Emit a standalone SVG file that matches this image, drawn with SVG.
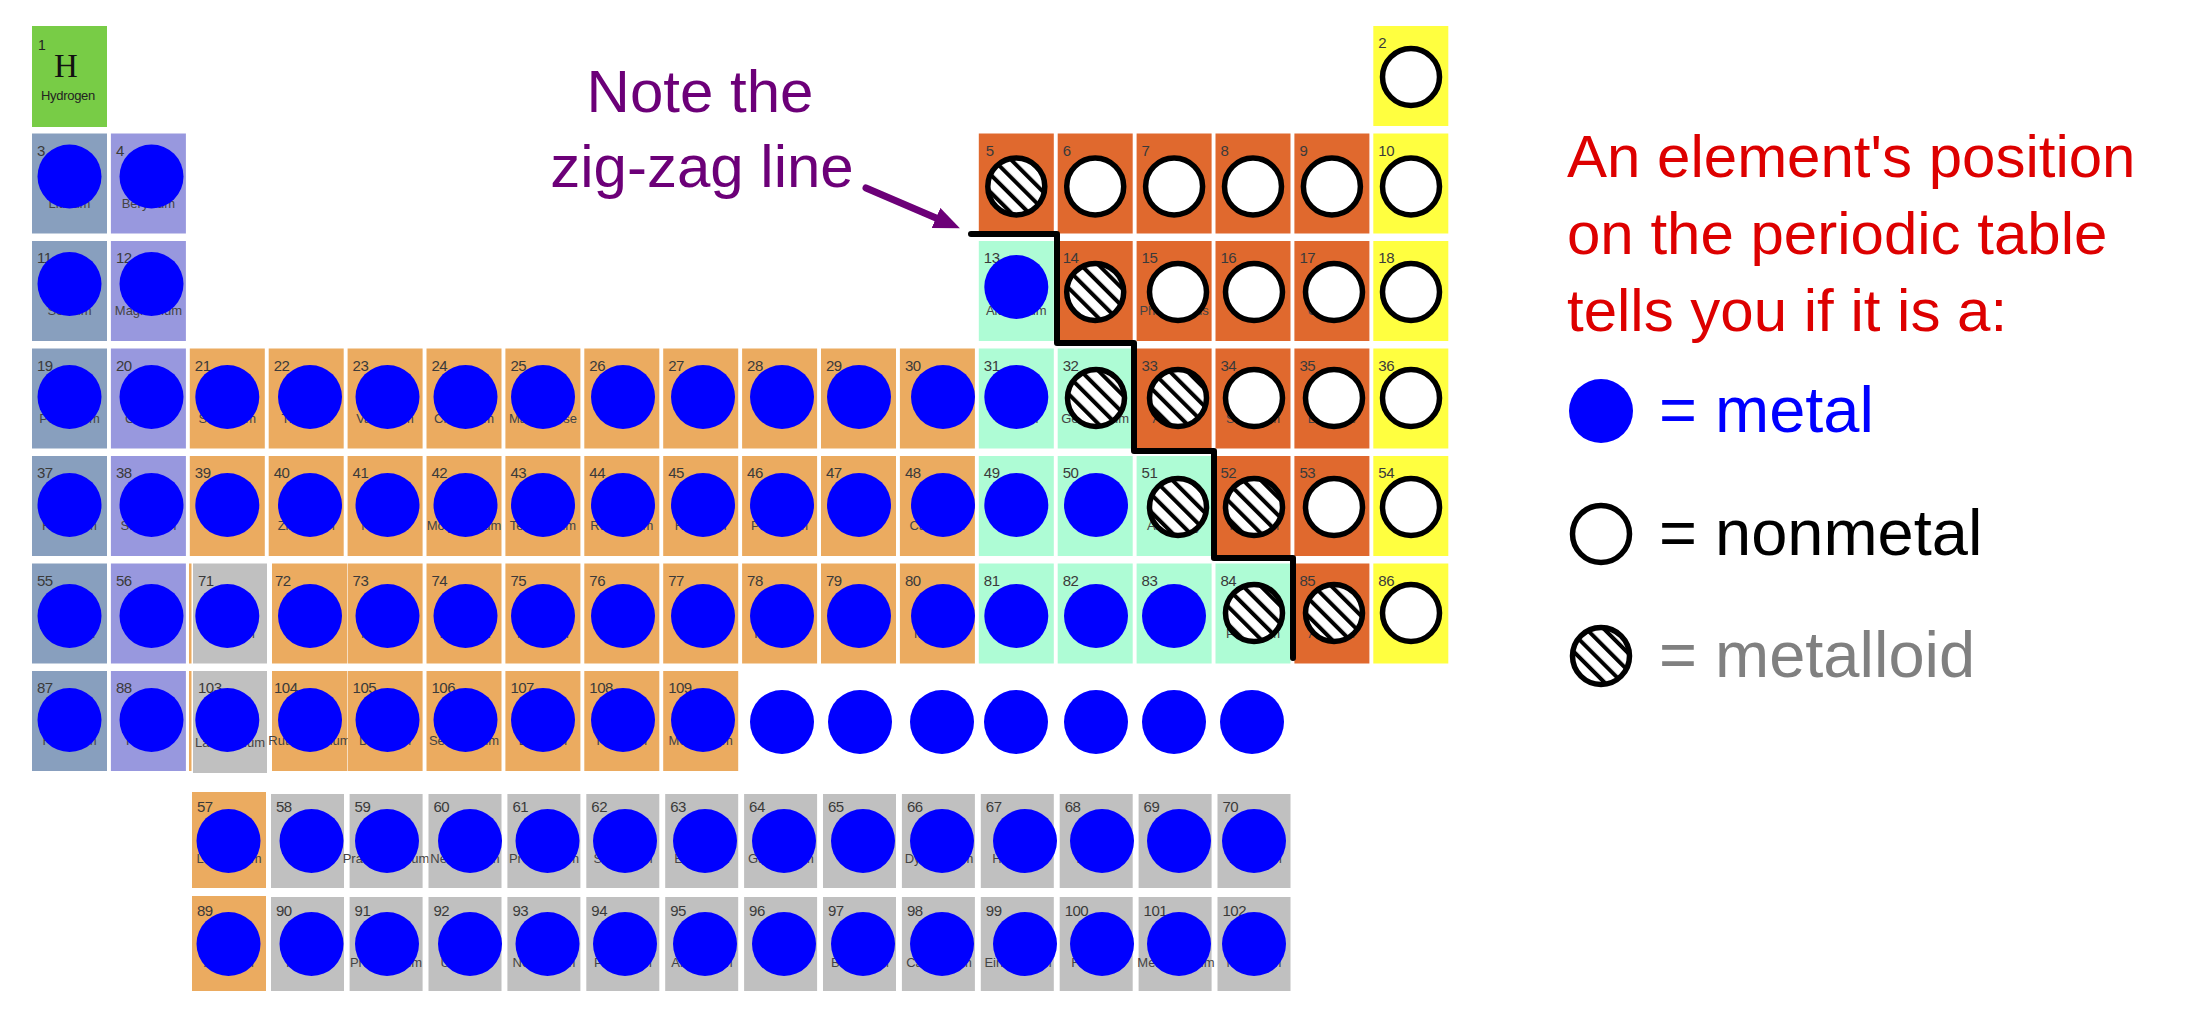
<svg xmlns="http://www.w3.org/2000/svg" width="2211" height="1030" viewBox="0 0 2211 1030">
<defs>
<style>
.cH{fill:#78cc46}.cA{fill:#889fbe}.cB{fill:#9898de}.cT{fill:#ebab60}.cP{fill:#aefcd5}.cN{fill:#e0692e}.cG{fill:#ffff40}.cL{fill:#c0c0c0}
.num{font-family:"Liberation Sans",Arial,sans-serif;font-size:15px;fill:#3a3a3a;letter-spacing:-0.5px}
.lbl{font-family:"Liberation Sans",Arial,sans-serif;font-size:13px;fill:#444;text-anchor:middle}
.m{fill:#0000ff}
.n{fill:#fff;stroke:#000;stroke-width:5.5}
.d{fill:url(#hatch);stroke:#000;stroke-width:5.5}
.note{font-family:"Liberation Sans",Arial,sans-serif;font-size:60px;fill:#6c0078;text-anchor:middle}
.head{font-family:"Liberation Sans",Arial,sans-serif;font-size:60px;fill:#dd0000}
.leg{font-family:"Liberation Sans",Arial,sans-serif;font-size:65px}
</style>
<pattern id="hatch" width="12.5" height="12.5" patternUnits="userSpaceOnUse" patternTransform="rotate(-45)">
<rect width="12.5" height="12.5" fill="#fff"/><rect width="4" height="12.5" fill="#000"/>
</pattern>
<marker id="ah" markerUnits="userSpaceOnUse" markerWidth="26" markerHeight="22" viewBox="0 0 26 22" refX="0" refY="11" orient="auto">
<path d="M0,0 L26,11 L0,22 Z" fill="#6c0078"/>
</marker>
</defs>
<rect width="2211" height="1030" fill="#fff"/>

<!-- period 1 -->
<g id="e1"><rect class="cH" x="32" y="26" width="75" height="101"/><text x="38" y="50" style="font-family:'Liberation Sans',Arial,sans-serif;font-size:14px;fill:#222">1</text><text x="66" y="77" style="font-family:'Liberation Serif','Times New Roman',serif;font-size:33px;fill:#111;text-anchor:middle">H</text><text x="68" y="100" style="font-family:'Liberation Sans',Arial,sans-serif;font-size:13px;fill:#222;text-anchor:middle;letter-spacing:-0.3px">Hydrogen</text></g>
<g id="e2"><rect class="cG" x="1373.3" y="26" width="75" height="100"/><text class="num" x="1378.3" y="48">2</text><circle class="n" cx="1411" cy="77" r="28.5"/></g>

<!-- period 2 -->
<g id="e3"><rect class="cA" x="32" y="133.5" width="75" height="100"/><text class="num" x="37" y="155.5">3</text><text class="lbl" x="69.5" y="207.5">Lithium</text><circle class="m" cx="69.5" cy="176.5" r="32"/></g>
<g id="e4"><rect class="cB" x="110.9" y="133.5" width="75" height="100"/><text class="num" x="115.9" y="155.5">4</text><text class="lbl" x="148.4" y="207.5">Beryllium</text><circle class="m" cx="151.5" cy="176.5" r="32"/></g>
<g id="e5"><rect class="cN" x="978.8" y="133.5" width="75" height="100"/><text class="num" x="985.8" y="155.5">5</text><circle class="d" cx="1016.3" cy="186.5" r="28.5"/></g>
<g id="e6"><rect class="cN" x="1057.7" y="133.5" width="75" height="100"/><text class="num" x="1062.7" y="155.5">6</text><circle class="n" cx="1095.2" cy="186.5" r="28.5"/></g>
<g id="e7"><rect class="cN" x="1136.6" y="133.5" width="75" height="100"/><text class="num" x="1141.6" y="155.5">7</text><circle class="n" cx="1174.1" cy="186.5" r="28.5"/></g>
<g id="e8"><rect class="cN" x="1215.5" y="133.5" width="75" height="100"/><text class="num" x="1220.5" y="155.5">8</text><circle class="n" cx="1253" cy="186.5" r="28.5"/></g>
<g id="e9"><rect class="cN" x="1294.4" y="133.5" width="75" height="100"/><text class="num" x="1299.4" y="155.5">9</text><circle class="n" cx="1331.9" cy="186.5" r="28.5"/></g>
<g id="e10"><rect class="cG" x="1373.3" y="133.5" width="75" height="100"/><text class="num" x="1378.3" y="155.5">10</text><circle class="n" cx="1411" cy="186.5" r="28.5"/></g>

<!-- period 3 -->
<g id="e11"><rect class="cA" x="32" y="241" width="75" height="100"/><text class="num" x="37" y="263">11</text><text class="lbl" x="69.5" y="315">Sodium</text><circle class="m" cx="69.5" cy="284" r="32"/></g>
<g id="e12"><rect class="cB" x="110.9" y="241" width="75" height="100"/><text class="num" x="115.9" y="263">12</text><text class="lbl" x="148.4" y="315">Magnesium</text><circle class="m" cx="151.5" cy="284" r="32"/></g>
<g id="e13"><rect class="cP" x="978.8" y="241" width="75" height="100"/><text class="num" x="983.8" y="263">13</text><text class="lbl" x="1016.3" y="315">Aluminium</text><circle class="m" cx="1016.3" cy="287" r="32"/></g>
<g id="e14"><rect class="cN" x="1057.7" y="241" width="75" height="100"/><text class="num" x="1062.7" y="263">14</text><text class="lbl" x="1095.2" y="315">Silicon</text><circle class="d" cx="1095.2" cy="292" r="28.5"/></g>
<g id="e15"><rect class="cN" x="1136.6" y="241" width="75" height="100"/><text class="num" x="1141.6" y="263">15</text><text class="lbl" x="1174.1" y="315">Phosphorus</text><circle class="n" cx="1178" cy="292" r="28.5"/></g>
<g id="e16"><rect class="cN" x="1215.5" y="241" width="75" height="100"/><text class="num" x="1220.5" y="263">16</text><text class="lbl" x="1253" y="315">Sulfur</text><circle class="n" cx="1254" cy="292" r="28.5"/></g>
<g id="e17"><rect class="cN" x="1294.4" y="241" width="75" height="100"/><text class="num" x="1299.4" y="263">17</text><text class="lbl" x="1331.9" y="315">Chlorine</text><circle class="n" cx="1334" cy="292" r="28.5"/></g>
<g id="e18"><rect class="cG" x="1373.3" y="241" width="75" height="100"/><text class="num" x="1378.3" y="263">18</text><circle class="n" cx="1411" cy="292" r="28.5"/></g>

<!-- period 4 -->
<g id="e19"><rect class="cA" x="32" y="348.5" width="75" height="100"/><text class="num" x="37" y="370.5">19</text><text class="lbl" x="69.5" y="422.5">Potassium</text><circle class="m" cx="69.5" cy="397" r="32"/></g>
<g id="e20"><rect class="cB" x="110.9" y="348.5" width="75" height="100"/><text class="num" x="115.9" y="370.5">20</text><text class="lbl" x="148.4" y="422.5">Calcium</text><circle class="m" cx="151.5" cy="397" r="32"/></g>
<g id="e21"><rect class="cT" x="189.8" y="348.5" width="75" height="100"/><text class="num" x="194.8" y="370.5">21</text><text class="lbl" x="227.3" y="422.5">Scandium</text><circle class="m" cx="227.3" cy="397" r="32"/></g>
<g id="e22"><rect class="cT" x="268.7" y="348.5" width="75" height="100"/><text class="num" x="273.7" y="370.5">22</text><text class="lbl" x="306.2" y="422.5">Titanium</text><circle class="m" cx="310" cy="397" r="32"/></g>
<g id="e23"><rect class="cT" x="347.6" y="348.5" width="75" height="100"/><text class="num" x="352.6" y="370.5">23</text><text class="lbl" x="385.1" y="422.5">Vanadium</text><circle class="m" cx="387.5" cy="397" r="32"/></g>
<g id="e24"><rect class="cT" x="426.5" y="348.5" width="75" height="100"/><text class="num" x="431.5" y="370.5">24</text><text class="lbl" x="464" y="422.5">Chromium</text><circle class="m" cx="465.5" cy="397" r="32"/></g>
<g id="e25"><rect class="cT" x="505.4" y="348.5" width="75" height="100"/><text class="num" x="510.4" y="370.5">25</text><text class="lbl" x="542.9" y="422.5">Manganese</text><circle class="m" cx="543" cy="397" r="32"/></g>
<g id="e26"><rect class="cT" x="584.3" y="348.5" width="75" height="100"/><text class="num" x="589.3" y="370.5">26</text><text class="lbl" x="621.8" y="422.5">Iron</text><circle class="m" cx="623" cy="397" r="32"/></g>
<g id="e27"><rect class="cT" x="663.2" y="348.5" width="75" height="100"/><text class="num" x="668.2" y="370.5">27</text><text class="lbl" x="700.7" y="422.5">Cobalt</text><circle class="m" cx="703" cy="397" r="32"/></g>
<g id="e28"><rect class="cT" x="742.1" y="348.5" width="75" height="100"/><text class="num" x="747.1" y="370.5">28</text><text class="lbl" x="779.6" y="422.5">Nickel</text><circle class="m" cx="782" cy="397" r="32"/></g>
<g id="e29"><rect class="cT" x="821" y="348.5" width="75" height="100"/><text class="num" x="826" y="370.5">29</text><text class="lbl" x="858.5" y="422.5">Copper</text><circle class="m" cx="859" cy="397" r="32"/></g>
<g id="e30"><rect class="cT" x="899.9" y="348.5" width="75" height="100"/><text class="num" x="904.9" y="370.5">30</text><text class="lbl" x="937.4" y="422.5">Zinc</text><circle class="m" cx="943" cy="397" r="32"/></g>
<g id="e31"><rect class="cP" x="978.8" y="348.5" width="75" height="100"/><text class="num" x="983.8" y="370.5">31</text><text class="lbl" x="1016.3" y="422.5">Gallium</text><circle class="m" cx="1016.3" cy="397" r="32"/></g>
<g id="e32"><rect class="cP" x="1057.7" y="348.5" width="75" height="100"/><text class="num" x="1062.7" y="370.5">32</text><text class="lbl" x="1095.2" y="422.5">Germanium</text><circle class="d" cx="1096" cy="398" r="28.5"/></g>
<g id="e33"><rect class="cN" x="1136.6" y="348.5" width="75" height="100"/><text class="num" x="1141.6" y="370.5">33</text><text class="lbl" x="1174.1" y="422.5">Arsenic</text><circle class="d" cx="1178" cy="398" r="28.5"/></g>
<g id="e34"><rect class="cN" x="1215.5" y="348.5" width="75" height="100"/><text class="num" x="1220.5" y="370.5">34</text><text class="lbl" x="1253" y="422.5">Selenium</text><circle class="n" cx="1254" cy="398" r="28.5"/></g>
<g id="e35"><rect class="cN" x="1294.4" y="348.5" width="75" height="100"/><text class="num" x="1299.4" y="370.5">35</text><text class="lbl" x="1331.9" y="422.5">Bromine</text><circle class="n" cx="1334" cy="398" r="28.5"/></g>
<g id="e36"><rect class="cG" x="1373.3" y="348.5" width="75" height="100"/><text class="num" x="1378.3" y="370.5">36</text><circle class="n" cx="1411" cy="398" r="28.5"/></g>

<!-- period 5 -->
<g id="e37"><rect class="cA" x="32" y="456" width="75" height="100"/><text class="num" x="37" y="478">37</text><text class="lbl" x="69.5" y="530">Rubidium</text><circle class="m" cx="69.5" cy="505" r="32"/></g>
<g id="e38"><rect class="cB" x="110.9" y="456" width="75" height="100"/><text class="num" x="115.9" y="478">38</text><text class="lbl" x="148.4" y="530">Strontium</text><circle class="m" cx="151.5" cy="505" r="32"/></g>
<g id="e39"><rect class="cT" x="189.8" y="456" width="75" height="100"/><text class="num" x="194.8" y="478">39</text><text class="lbl" x="227.3" y="530">Yttrium</text><circle class="m" cx="227.3" cy="505" r="32"/></g>
<g id="e40"><rect class="cT" x="268.7" y="456" width="75" height="100"/><text class="num" x="273.7" y="478">40</text><text class="lbl" x="306.2" y="530">Zirconium</text><circle class="m" cx="310" cy="505" r="32"/></g>
<g id="e41"><rect class="cT" x="347.6" y="456" width="75" height="100"/><text class="num" x="352.6" y="478">41</text><text class="lbl" x="385.1" y="530">Niobium</text><circle class="m" cx="387.5" cy="505" r="32"/></g>
<g id="e42"><rect class="cT" x="426.5" y="456" width="75" height="100"/><text class="num" x="431.5" y="478">42</text><text class="lbl" x="464" y="530">Molybdenum</text><circle class="m" cx="465.5" cy="505" r="32"/></g>
<g id="e43"><rect class="cT" x="505.4" y="456" width="75" height="100"/><text class="num" x="510.4" y="478">43</text><text class="lbl" x="542.9" y="530">Technetium</text><circle class="m" cx="543" cy="505" r="32"/></g>
<g id="e44"><rect class="cT" x="584.3" y="456" width="75" height="100"/><text class="num" x="589.3" y="478">44</text><text class="lbl" x="621.8" y="530">Ruthenium</text><circle class="m" cx="623" cy="505" r="32"/></g>
<g id="e45"><rect class="cT" x="663.2" y="456" width="75" height="100"/><text class="num" x="668.2" y="478">45</text><text class="lbl" x="700.7" y="530">Rhodium</text><circle class="m" cx="703" cy="505" r="32"/></g>
<g id="e46"><rect class="cT" x="742.1" y="456" width="75" height="100"/><text class="num" x="747.1" y="478">46</text><text class="lbl" x="779.6" y="530">Palladium</text><circle class="m" cx="782" cy="505" r="32"/></g>
<g id="e47"><rect class="cT" x="821" y="456" width="75" height="100"/><text class="num" x="826" y="478">47</text><text class="lbl" x="858.5" y="530">Silver</text><circle class="m" cx="859" cy="505" r="32"/></g>
<g id="e48"><rect class="cT" x="899.9" y="456" width="75" height="100"/><text class="num" x="904.9" y="478">48</text><text class="lbl" x="937.4" y="530">Cadmium</text><circle class="m" cx="943" cy="505" r="32"/></g>
<g id="e49"><rect class="cP" x="978.8" y="456" width="75" height="100"/><text class="num" x="983.8" y="478">49</text><text class="lbl" x="1016.3" y="530">Indium</text><circle class="m" cx="1016.3" cy="505" r="32"/></g>
<g id="e50"><rect class="cP" x="1057.7" y="456" width="75" height="100"/><text class="num" x="1062.7" y="478">50</text><text class="lbl" x="1095.2" y="530">Tin</text><circle class="m" cx="1096" cy="505" r="32"/></g>
<g id="e51"><rect class="cP" x="1136.6" y="456" width="75" height="100"/><text class="num" x="1141.6" y="478">51</text><text class="lbl" x="1174.1" y="530">Antimony</text><circle class="d" cx="1178" cy="507" r="28.5"/></g>
<g id="e52"><rect class="cN" x="1215.5" y="456" width="75" height="100"/><text class="num" x="1220.5" y="478">52</text><text class="lbl" x="1253" y="530">Tellurium</text><circle class="d" cx="1254" cy="507" r="28.5"/></g>
<g id="e53"><rect class="cN" x="1294.4" y="456" width="75" height="100"/><text class="num" x="1299.4" y="478">53</text><text class="lbl" x="1331.9" y="530">Iodine</text><circle class="n" cx="1334" cy="507" r="28.5"/></g>
<g id="e54"><rect class="cG" x="1373.3" y="456" width="75" height="100"/><text class="num" x="1378.3" y="478">54</text><circle class="n" cx="1411" cy="507" r="28.5"/></g>

<!-- period 6 -->
<g id="e55"><rect class="cA" x="32" y="563.5" width="75" height="100"/><text class="num" x="37" y="585.5">55</text><text class="lbl" x="69.5" y="637.5">Caesium</text><circle class="m" cx="69.5" cy="616" r="32"/></g>
<g id="e56"><rect class="cB" x="110.9" y="563.5" width="75" height="100"/><text class="num" x="115.9" y="585.5">56</text><text class="lbl" x="148.4" y="637.5">Barium</text><circle class="m" cx="151.5" cy="616" r="32"/></g>
<rect class="cT" x="189" y="563.5" width="2.5" height="100"/>
<g id="e71"><rect class="cL" x="193" y="563.5" width="74" height="100"/><text class="num" x="198" y="585.5">71</text><text class="lbl" x="230" y="637.5">Lutetium</text><circle class="m" cx="227.3" cy="616" r="32"/></g>
<g id="e72"><rect class="cT" x="272" y="563.5" width="75" height="100"/><text class="num" x="275" y="585.5">72</text><text class="lbl" x="309.5" y="637.5">Hafnium</text><circle class="m" cx="310" cy="616" r="32"/></g>
<g id="e73"><rect class="cT" x="347.6" y="563.5" width="75" height="100"/><text class="num" x="352.6" y="585.5">73</text><text class="lbl" x="385.1" y="637.5">Tantalum</text><circle class="m" cx="387.5" cy="616" r="32"/></g>
<g id="e74"><rect class="cT" x="426.5" y="563.5" width="75" height="100"/><text class="num" x="431.5" y="585.5">74</text><text class="lbl" x="464" y="637.5">Tungsten</text><circle class="m" cx="465.5" cy="616" r="32"/></g>
<g id="e75"><rect class="cT" x="505.4" y="563.5" width="75" height="100"/><text class="num" x="510.4" y="585.5">75</text><text class="lbl" x="542.9" y="637.5">Rhenium</text><circle class="m" cx="543" cy="616" r="32"/></g>
<g id="e76"><rect class="cT" x="584.3" y="563.5" width="75" height="100"/><text class="num" x="589.3" y="585.5">76</text><text class="lbl" x="621.8" y="637.5">Osmium</text><circle class="m" cx="623" cy="616" r="32"/></g>
<g id="e77"><rect class="cT" x="663.2" y="563.5" width="75" height="100"/><text class="num" x="668.2" y="585.5">77</text><text class="lbl" x="700.7" y="637.5">Iridium</text><circle class="m" cx="703" cy="616" r="32"/></g>
<g id="e78"><rect class="cT" x="742.1" y="563.5" width="75" height="100"/><text class="num" x="747.1" y="585.5">78</text><text class="lbl" x="779.6" y="637.5">Platinum</text><circle class="m" cx="782" cy="616" r="32"/></g>
<g id="e79"><rect class="cT" x="821" y="563.5" width="75" height="100"/><text class="num" x="826" y="585.5">79</text><text class="lbl" x="858.5" y="637.5">Gold</text><circle class="m" cx="859" cy="616" r="32"/></g>
<g id="e80"><rect class="cT" x="899.9" y="563.5" width="75" height="100"/><text class="num" x="904.9" y="585.5">80</text><text class="lbl" x="937.4" y="637.5">Mercury</text><circle class="m" cx="943" cy="616" r="32"/></g>
<g id="e81"><rect class="cP" x="978.8" y="563.5" width="75" height="100"/><text class="num" x="983.8" y="585.5">81</text><text class="lbl" x="1016.3" y="637.5">Thallium</text><circle class="m" cx="1016.3" cy="616" r="32"/></g>
<g id="e82"><rect class="cP" x="1057.7" y="563.5" width="75" height="100"/><text class="num" x="1062.7" y="585.5">82</text><text class="lbl" x="1095.2" y="637.5">Lead</text><circle class="m" cx="1096" cy="616" r="32"/></g>
<g id="e83"><rect class="cP" x="1136.6" y="563.5" width="75" height="100"/><text class="num" x="1141.6" y="585.5">83</text><text class="lbl" x="1174.1" y="637.5">Bismuth</text><circle class="m" cx="1174" cy="616" r="32"/></g>
<g id="e84"><rect class="cP" x="1215.5" y="563.5" width="75" height="100"/><text class="num" x="1220.5" y="585.5">84</text><text class="lbl" x="1253" y="637.5">Polonium</text><circle class="d" cx="1254" cy="613" r="28.5"/></g>
<g id="e85"><rect class="cN" x="1294.4" y="563.5" width="75" height="100"/><text class="num" x="1299.4" y="585.5">85</text><text class="lbl" x="1331.9" y="637.5">Astatine</text><circle class="d" cx="1334" cy="613" r="28.5"/></g>
<g id="e86"><rect class="cG" x="1373.3" y="563.5" width="75" height="100"/><text class="num" x="1378.3" y="585.5">86</text><circle class="n" cx="1411" cy="613" r="28.5"/></g>

<!-- period 7 -->
<g id="e87"><rect class="cA" x="32" y="671" width="75" height="100"/><text class="num" x="37" y="693">87</text><text class="lbl" x="69.5" y="745">Francium</text><circle class="m" cx="69.5" cy="720" r="32"/></g>
<g id="e88"><rect class="cB" x="110.9" y="671" width="75" height="100"/><text class="num" x="115.9" y="693">88</text><text class="lbl" x="148.4" y="745">Radium</text><circle class="m" cx="151.5" cy="720" r="32"/></g>
<rect class="cT" x="189" y="671" width="2.5" height="100"/>
<g id="e103"><rect class="cL" x="193" y="671" width="74" height="102"/><text class="num" x="198" y="693">103</text><text class="lbl" x="230" y="747">Lawrencium</text><circle class="m" cx="227.3" cy="720" r="32"/></g>
<g id="e104"><rect class="cT" x="272" y="671" width="75" height="100"/><text class="num" x="274" y="693">104</text><text class="lbl" x="309.5" y="745">Rutherfordium</text><circle class="m" cx="310" cy="720" r="32"/></g>
<g id="e105"><rect class="cT" x="347.6" y="671" width="75" height="100"/><text class="num" x="352.6" y="693">105</text><text class="lbl" x="385.1" y="745">Dubnium</text><circle class="m" cx="387.5" cy="720" r="32"/></g>
<g id="e106"><rect class="cT" x="426.5" y="671" width="75" height="100"/><text class="num" x="431.5" y="693">106</text><text class="lbl" x="464" y="745">Seaborgium</text><circle class="m" cx="465.5" cy="720" r="32"/></g>
<g id="e107"><rect class="cT" x="505.4" y="671" width="75" height="100"/><text class="num" x="510.4" y="693">107</text><text class="lbl" x="542.9" y="745">Bohrium</text><circle class="m" cx="543" cy="720" r="32"/></g>
<g id="e108"><rect class="cT" x="584.3" y="671" width="75" height="100"/><text class="num" x="589.3" y="693">108</text><text class="lbl" x="621.8" y="745">Hassium</text><circle class="m" cx="623" cy="720" r="32"/></g>
<g id="e109"><rect class="cT" x="663.2" y="671" width="75" height="100"/><text class="num" x="668.2" y="693">109</text><text class="lbl" x="700.7" y="745">Meitnerium</text><circle class="m" cx="703" cy="720" r="32"/></g>
<g id="e110"><circle class="m" cx="782" cy="722" r="32"/></g>
<g id="e111"><circle class="m" cx="860" cy="722" r="32"/></g>
<g id="e112"><circle class="m" cx="942" cy="722" r="32"/></g>
<g id="e113"><circle class="m" cx="1016" cy="722" r="32"/></g>
<g id="e114"><circle class="m" cx="1096" cy="722" r="32"/></g>
<g id="e115"><circle class="m" cx="1174" cy="722" r="32"/></g>
<g id="e116"><circle class="m" cx="1252" cy="722" r="32"/></g>

<!-- lanthanides -->
<g id="e57"><rect class="cT" x="192" y="792" width="74" height="96"/><text class="num" x="197" y="812">57</text><text class="lbl" x="229" y="863">Lanthanum</text><circle class="m" cx="228.5" cy="841" r="32"/></g>
<g id="e58"><rect class="cL" x="271" y="794" width="73" height="94"/><text class="num" x="276" y="812">58</text><text class="lbl" x="307.5" y="863">Cerium</text><circle class="m" cx="311.5" cy="841" r="32"/></g>
<g id="e59"><rect class="cL" x="349.6" y="794" width="73" height="94"/><text class="num" x="354.6" y="812">59</text><text class="lbl" x="386" y="863">Praseodymium</text><circle class="m" cx="387" cy="841" r="32"/></g>
<g id="e60"><rect class="cL" x="428.5" y="794" width="73" height="94"/><text class="num" x="433.5" y="812">60</text><text class="lbl" x="465" y="863">Neodymium</text><circle class="m" cx="470" cy="841" r="32"/></g>
<g id="e61"><rect class="cL" x="507.4" y="794" width="73" height="94"/><text class="num" x="512.4" y="812">61</text><text class="lbl" x="544" y="863">Promethium</text><circle class="m" cx="547.5" cy="841" r="32"/></g>
<g id="e62"><rect class="cL" x="586.3" y="794" width="73" height="94"/><text class="num" x="591.3" y="812">62</text><text class="lbl" x="623" y="863">Samarium</text><circle class="m" cx="625" cy="841" r="32"/></g>
<g id="e63"><rect class="cL" x="665.2" y="794" width="73" height="94"/><text class="num" x="670.2" y="812">63</text><text class="lbl" x="702" y="863">Europium</text><circle class="m" cx="705" cy="841" r="32"/></g>
<g id="e64"><rect class="cL" x="744.1" y="794" width="73" height="94"/><text class="num" x="749.1" y="812">64</text><text class="lbl" x="781" y="863">Gadolinium</text><circle class="m" cx="784" cy="841" r="32"/></g>
<g id="e65"><rect class="cL" x="823" y="794" width="73" height="94"/><text class="num" x="828" y="812">65</text><text class="lbl" x="860" y="863">Terbium</text><circle class="m" cx="863" cy="841" r="32"/></g>
<g id="e66"><rect class="cL" x="901.9" y="794" width="73" height="94"/><text class="num" x="906.9" y="812">66</text><text class="lbl" x="939" y="863">Dysprosium</text><circle class="m" cx="942" cy="841" r="32"/></g>
<g id="e67"><rect class="cL" x="980.8" y="794" width="73" height="94"/><text class="num" x="985.8" y="812">67</text><text class="lbl" x="1018" y="863">Holmium</text><circle class="m" cx="1025" cy="841" r="32"/></g>
<g id="e68"><rect class="cL" x="1059.7" y="794" width="73" height="94"/><text class="num" x="1064.7" y="812">68</text><text class="lbl" x="1097" y="863">Erbium</text><circle class="m" cx="1102" cy="841" r="32"/></g>
<g id="e69"><rect class="cL" x="1138.6" y="794" width="73" height="94"/><text class="num" x="1143.6" y="812">69</text><text class="lbl" x="1176" y="863">Thulium</text><circle class="m" cx="1179" cy="841" r="32"/></g>
<g id="e70"><rect class="cL" x="1217.5" y="794" width="73" height="94"/><text class="num" x="1222.5" y="812">70</text><text class="lbl" x="1254" y="863">Ytterbium</text><circle class="m" cx="1254" cy="841" r="32"/></g>

<!-- actinides -->
<g id="e89"><rect class="cT" x="192" y="896" width="74" height="95"/><text class="num" x="197" y="916">89</text><text class="lbl" x="229" y="967">Actinium</text><circle class="m" cx="228.5" cy="944" r="32"/></g>
<g id="e90"><rect class="cL" x="271" y="897" width="73" height="94"/><text class="num" x="276" y="916">90</text><text class="lbl" x="307.5" y="967">Thorium</text><circle class="m" cx="311.5" cy="944" r="32"/></g>
<g id="e91"><rect class="cL" x="349.6" y="897" width="73" height="94"/><text class="num" x="354.6" y="916">91</text><text class="lbl" x="386" y="967">Protactinium</text><circle class="m" cx="387" cy="944" r="32"/></g>
<g id="e92"><rect class="cL" x="428.5" y="897" width="73" height="94"/><text class="num" x="433.5" y="916">92</text><text class="lbl" x="465" y="967">Uranium</text><circle class="m" cx="470" cy="944" r="32"/></g>
<g id="e93"><rect class="cL" x="507.4" y="897" width="73" height="94"/><text class="num" x="512.4" y="916">93</text><text class="lbl" x="544" y="967">Neptunium</text><circle class="m" cx="547.5" cy="944" r="32"/></g>
<g id="e94"><rect class="cL" x="586.3" y="897" width="73" height="94"/><text class="num" x="591.3" y="916">94</text><text class="lbl" x="623" y="967">Plutonium</text><circle class="m" cx="625" cy="944" r="32"/></g>
<g id="e95"><rect class="cL" x="665.2" y="897" width="73" height="94"/><text class="num" x="670.2" y="916">95</text><text class="lbl" x="702" y="967">Americium</text><circle class="m" cx="705" cy="944" r="32"/></g>
<g id="e96"><rect class="cL" x="744.1" y="897" width="73" height="94"/><text class="num" x="749.1" y="916">96</text><text class="lbl" x="781" y="967">Curium</text><circle class="m" cx="784" cy="944" r="32"/></g>
<g id="e97"><rect class="cL" x="823" y="897" width="73" height="94"/><text class="num" x="828" y="916">97</text><text class="lbl" x="860" y="967">Berkelium</text><circle class="m" cx="863" cy="944" r="32"/></g>
<g id="e98"><rect class="cL" x="901.9" y="897" width="73" height="94"/><text class="num" x="906.9" y="916">98</text><text class="lbl" x="939" y="967">Californium</text><circle class="m" cx="942" cy="944" r="32"/></g>
<g id="e99"><rect class="cL" x="980.8" y="897" width="73" height="94"/><text class="num" x="985.8" y="916">99</text><text class="lbl" x="1018" y="967">Einsteinium</text><circle class="m" cx="1025" cy="944" r="32"/></g>
<g id="e100"><rect class="cL" x="1059.7" y="897" width="73" height="94"/><text class="num" x="1064.7" y="916">100</text><text class="lbl" x="1097" y="967">Fermium</text><circle class="m" cx="1102" cy="944" r="32"/></g>
<g id="e101"><rect class="cL" x="1138.6" y="897" width="73" height="94"/><text class="num" x="1143.6" y="916">101</text><text class="lbl" x="1176" y="967">Mendelevium</text><circle class="m" cx="1179" cy="944" r="32"/></g>
<g id="e102"><rect class="cL" x="1217.5" y="897" width="73" height="94"/><text class="num" x="1222.5" y="916">102</text><text class="lbl" x="1254" y="967">Nobelium</text><circle class="m" cx="1254" cy="944" r="32"/></g>

<!-- note -->
<g id="note">
<text class="note" x="700" y="112">Note the</text>
<text class="note" x="702" y="187">zig-zag line</text>
</g>

<!-- connectors -->
<g id="connectors">
<path d="M971,234 H1057 V343 H1134 V451 H1214 V558 H1293 V658" fill="none" stroke="#000" stroke-width="6" stroke-linejoin="round" stroke-linecap="round"/>
<line x1="866" y1="188" x2="936" y2="218" stroke="#6c0078" stroke-width="7" stroke-linecap="round" marker-end="url(#ah)"/>
</g>

<!-- legend -->
<g id="legend-title">
<text class="head" x="1567" y="177">An element's position</text>
<text class="head" x="1567" y="254">on the periodic table</text>
<text class="head" x="1567" y="331">tells you if it is a:</text>
</g>
<g id="legend-metal"><circle class="m" cx="1601" cy="411" r="32"/><text class="leg" x="1659" y="432" fill="#0000ff">= metal</text></g>
<g id="legend-nonmetal"><circle class="n" cx="1601" cy="534" r="28.5"/><text class="leg" x="1659" y="555" fill="#000">= nonmetal</text></g>
<g id="legend-metalloid"><circle class="d" cx="1601" cy="656" r="28.5"/><text class="leg" x="1659" y="677" fill="#808080">= metalloid</text></g>
</svg>
